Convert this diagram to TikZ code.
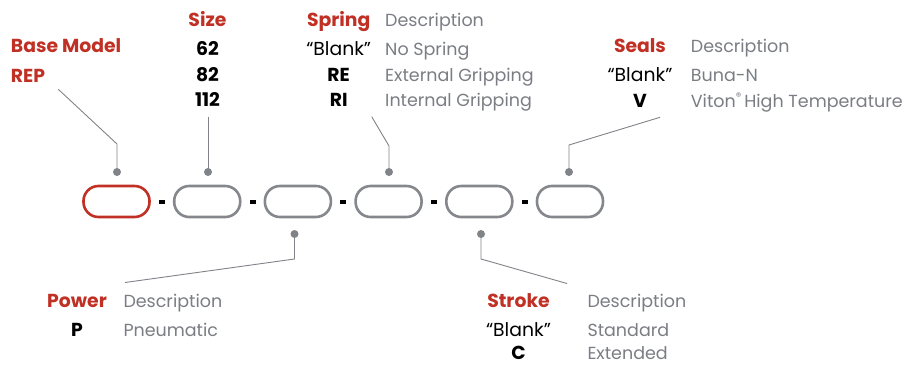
\documentclass[tikz,border=0pt]{standalone}
\usepackage{fontspec}
\setmainfont{Poppins}
\definecolor{redc}{RGB}{192,48,36}
\definecolor{grayt}{RGB}{122,125,131}
\definecolor{grayl}{RGB}{128,131,136}
\definecolor{grayc}{RGB}{132,135,140}
\tikzset{
  capsule/.style={draw=grayc, line width=2.6pt, rounded corners=15pt, minimum width=66pt, minimum height=31pt, inner sep=0pt},
  redcap/.style={capsule, draw=redc},
  dashbar/.style={fill=black, minimum width=6pt, minimum height=3.5pt, inner sep=0pt},
  dot/.style={circle, fill=grayl, minimum size=8pt, inner sep=0pt},
  leader/.style={draw=grayl, line width=0.9pt},
  hdr/.style={font=\fontsize{18.8}{19}\selectfont\bfseries, text=redc, inner sep=0pt, anchor=base},
  code/.style={font=\fontsize{18.8}{19}\selectfont\bfseries, text=black, inner sep=0pt, anchor=base},
  blank/.style={font=\fontsize{18.8}{19}\selectfont, text=black, inner sep=0pt, anchor=base},
  desc/.style={font=\fontsize{17.5}{18}\selectfont, text=grayt, inner sep=0pt, anchor=base west},
}
\begin{document}
\begin{tikzpicture}[x=1pt, y=-1pt]
\useasboundingbox (0,0) rectangle (910,364);
% capsules
\node[redcap] (c1) at (116.5,201.5) {};
\node[capsule] (c2) at (207.2,201.5) {};
\node[capsule] (c3) at (297.9,201.5) {};
\node[capsule] (c4) at (388.6,201.5) {};
\node[capsule] (c5) at (479.3,201.5) {};
\node[capsule] (c6) at (570,201.5) {};
\node[dashbar] (d1) at (161.8,202) {};
\node[dashbar] (d2) at (252.5,202) {};
\node[dashbar] (d3) at (343.2,202) {};
\node[dashbar] (d4) at (433.9,202) {};
\node[dashbar] (d5) at (524.6,202) {};
% dots
\node[dot] (p1) at (117,172) {};
\node[dot] (p2) at (208,172) {};
\node[dot] (p4) at (389,172) {};
\node[dot] (p6) at (569,172) {};
\node[dot] (p3) at (294.5,234) {};
\node[dot] (p5) at (481,234) {};
% leader coordinates
\coordinate (b0) at (58.3,89.3);
\coordinate (b1) at (117,144);
\coordinate (s0) at (208,116.7);
\coordinate (r0) at (371.7,116.7);
\coordinate (r1) at (389,146);
\coordinate (e0) at (660,117.3);
\coordinate (e1) at (569,145);
\coordinate (w1) at (294.5,259);
\coordinate (w0) at (125,282.5);
\coordinate (k1) at (481,259);
\coordinate (k0) at (567,283.5);
\draw[leader] (b0) -- (b1) -- (p1.center);
\draw[leader] (s0) -- (p2.center);
\draw[leader] (r0) -- (r1) -- (p4.center);
\draw[leader] (e0) -- (e1) -- (p6.center);
\draw[leader] (p3.center) -- (w1) -- (w0);
\draw[leader] (p5.center) -- (k1) -- (k0);
% Base model
\node[hdr, anchor=base west] (bm) at (10.7,52.7) {Base Model};
\node[hdr, anchor=base west] (rep) at (10.7,82.7) {REP};
% Size
\node[hdr] (size) at (207.5,26) {Size};
\node[code] (s62) at (207.5,55) {62};
\node[code] (s82) at (207.5,81) {82};
\node[code] (s112) at (207.5,106.7) {112};
% Spring
\node[hdr] (spring) at (338.7,26) {Spring};
\node[blank] (spb) at (338.7,55) {“Blank”};
\node[code] (spre) at (338.7,81) {RE};
\node[code] (spri) at (338.7,106.7) {RI};
\node[desc] (spd0) at (385,26) {Description};
\node[desc] (spd1) at (385,55) {No Spring};
\node[desc] (spd2) at (385,81) {External Gripping};
\node[desc] (spd3) at (385,106.7) {Internal Gripping};
% Seals
\node[hdr] (seals) at (640,52.7) {Seals};
\node[blank] (seb) at (640,81.7) {“Blank”};
\node[code] (sev) at (640,107) {V};
\node[desc] (sed0) at (690.7,52.7) {Description};
\node[desc] (sed1) at (690.7,81.7) {Buna-N};
\node[desc] (sed2) at (690.7,107) {Viton\raisebox{0.7ex}{\fontsize{11}{11}\selectfont ®}\,High Temperature};
% Power
\node[hdr] (power) at (77,307.3) {Power};
\node[code] (pp) at (77,336.7) {P};
\node[desc] (pd0) at (123.3,307.3) {Description};
\node[desc] (pd1) at (123.3,336.7) {Pneumatic};
% Stroke
\node[hdr] (stroke) at (518.5,307.3) {Stroke};
\node[blank] (stb) at (518.5,336.7) {“Blank”};
\node[code] (stc) at (518.5,359.8) {C};
\node[desc] (std0) at (587.3,307.3) {Description};
\node[desc] (std1) at (587.3,336.7) {Standard};
\node[desc] (std2) at (587.3,359.8) {Extended};
\end{tikzpicture}
\end{document}
